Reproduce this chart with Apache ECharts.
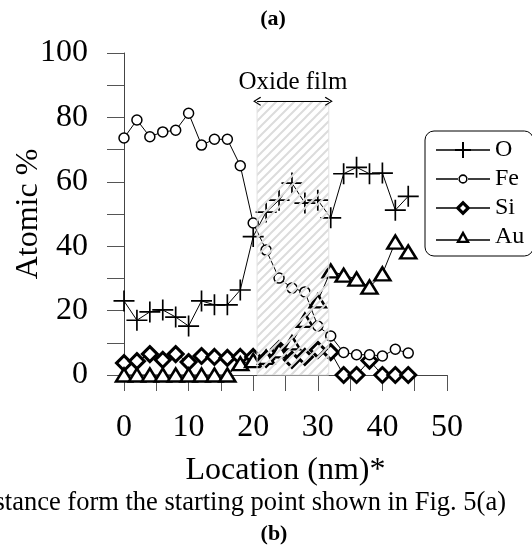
<!DOCTYPE html>
<html>
<head>
<meta charset="utf-8">
<script src="https://cdn.jsdelivr.net/npm/echarts@6/dist/echarts.min.js"></script>
<style>
  html, body { margin: 0; padding: 0; background: #fff; }
  #chart { width: 532px; height: 552px; }
</style>
</head>
<body>
<div id="chart"></div>
<script>
// location (nm) of each measuring point
var locations = [0, 2, 4, 6, 8, 10, 12, 14, 16, 18, 20, 22, 24, 26, 28, 30, 32, 34, 36, 38, 40, 42, 44]
// atomic % per element
var oValues = [23, 17, 19.6, 20.2, 18, 15.2, 23, 21.8, 21.8, 26.4, 43, 50.6, 54.3, 59.6, 53.4, 54.3, 48.8, 62.5, 64.5, 62.5, 62.7, 51.2, 55.5]
var feValues = [73.6, 79.2, 74, 75.5, 76, 81.3, 71.4, 73.2, 73.2, 65, 47.2, 38.8, 30.1, 27, 25.8, 15.2, 12.1, 7, 6.3, 6.3, 5.9, 8, 6.8]
var siValues = [3.7, 4.3, 6.5, 4.7, 6.5, 4, 5.9, 5.6, 5.3, 5.6, 5.6, 5, 8, 4.7, 5.6, 7.8, 7.1, 0, 0, 4.5, 0, 0, 0]
var auValues = [0, 0, 0, 0, 0, 0, 0, 0, 0, 3.5, 4.5, 5.5, 7.5, 10, 17, 23, 32.3, 31, 29.8, 27.3, 31.4, 41.3, 38.2]
// oxide film band [start, end] in nm and its height in %
var oxideFilm = [20.6, 31.7]
var oxideTop = 85

var serif = '"Liberation Serif", "Times New Roman", serif'

function pairs (vals) {
  return vals.map(function (v, i) { return [locations[i], v] })
}

// diagonal hatch tile
function hatch () {
  var c = document.createElement('canvas')
  c.width = 9
  c.height = 9
  var ctx = c.getContext('2d')
  ctx.strokeStyle = '#dcdcdc'
  ctx.lineWidth = 2
  ctx.beginPath()
  ctx.moveTo(-1, 10); ctx.lineTo(10, -1)
  ctx.moveTo(-2, 2); ctx.lineTo(2, -2)
  ctx.moveTo(7, 11); ctx.lineTo(11, 7)
  ctx.stroke()
  return c
}

var plusPath = 'path://M9.2,0H10.8V9.2H20V10.8H10.8V20H9.2V10.8H0V9.2H9.2Z'
var chevron = 'path://M5,0L10,9L9,10L5,2.6L1,10L0,9Z'

// legend icons in a 54x16 box (corner points keep the box size)
var box = 'M0,0L0,0M54,16L54,16'
var legendIcons = {
  O: 'path://' + box + 'M0,7.2H54V8.8H0ZM19,6.9H35V9.1H19ZM26,0H28V16H26Z',
  Fe: 'path://' + box + 'M0,7.2H23V8.8H0ZM31,7.2H54V8.8H31Z' +
    'M22.3,8A4.7,4.7 0 1 0 31.7,8A4.7,4.7 0 1 0 22.3,8ZM23.9,8A3.1,3.1 0 1 1 30.1,8A3.1,3.1 0 1 1 23.9,8Z',
  Si: 'path://' + box + 'M0,7.2H21V8.8H0ZM33,7.2H54V8.8H33Z' +
    'M27,0.5L34.5,8L27,15.5L19.5,8ZM27,5L24,8L27,11L30,8Z',
  Au: 'path://' + box + 'M0,10.2H22V11.8H0ZM32,10.2H54V11.8H32Z' +
    'M20,14L27,1.5L34,14ZM24.2,11.7L29.8,11.7L27,6.6Z'
}
var legendNames = ['O', 'Fe', 'Si', 'Au']

var chart = echarts.init(document.getElementById('chart'))
chart.setOption({
  animation: false,
  textStyle: { fontFamily: serif },
  grid: { left: 124, right: 85, top: 53, bottom: 177, containLabel: false, outerBoundsMode: 'none' },
  legend: {
    data: legendNames.map(function (n) {
      return { name: n, icon: legendIcons[n], itemStyle: { color: '#000', borderWidth: 0 } }
    }),
    orient: 'vertical',
    left: 425,
    top: 131,
    padding: [7, 9, 7, 11],
    itemWidth: 54,
    itemHeight: 16,
    itemGap: 5,
    backgroundColor: '#fff',
    borderColor: '#000',
    borderWidth: 1,
    borderRadius: 9,
    textStyle: { fontFamily: serif, fontSize: 24, color: '#000', lineHeight: 24 }
  },
  xAxis: {
    type: 'value',
    min: 0,
    max: 50,
    interval: 5,
    name: 'Location (nm)*',
    nameLocation: 'middle',
    nameGap: 80,
    nameTextStyle: { fontFamily: serif, fontSize: 32, color: '#000' },
    axisLine: { lineStyle: { color: '#444', width: 1 } },
    axisTick: { length: 16, lineStyle: { color: '#555' } },
    axisLabel: {
      margin: 37,
      fontSize: 32,
      color: '#000',
      fontFamily: serif,
      formatter: function (v) { return v % 10 === 0 ? v : '' }
    },
    splitLine: { show: false }
  },
  yAxis: {
    type: 'value',
    min: 0,
    max: 100,
    interval: 10,
    name: 'Atomic %',
    nameLocation: 'middle',
    nameGap: 79,
    nameMoveOverlap: false,
    nameTextStyle: { fontFamily: serif, fontSize: 32, color: '#000' },
    axisLine: { show: true, lineStyle: { color: '#444', width: 1 } },
    axisTick: { show: true, length: 17, lineStyle: { color: '#555' } },
    axisLabel: {
      margin: 36,
      fontSize: 32,
      color: '#000',
      fontFamily: serif,
      formatter: function (v) { return v % 20 === 0 ? v : '' }
    },
    splitLine: { show: false }
  },
  series: [
    {
      name: 'O',
      type: 'line',
      data: pairs(oValues),
      symbol: plusPath,
      symbolSize: 21,
      lineStyle: { color: '#000', width: 1 },
      itemStyle: { color: '#000' },
      z: 4,
      markArea: {
        silent: true,
        z: 10,
        itemStyle: {
          color: { image: hatch(), repeat: 'repeat' },
          borderColor: '#e2e2e2',
          borderWidth: 1
        },
        data: [[{ coord: [oxideFilm[0], 0] }, { coord: [oxideFilm[1], oxideTop] }]]
      },
      markLine: {
        silent: true,
        z: 11,
        symbol: [chevron, chevron],
        symbolSize: [9, 8],
        lineStyle: { color: '#000', width: 1, type: 'solid' },
        label: {
          show: true,
          position: 'insideMiddleTop',
          distance: 6,
          formatter: 'Oxide film',
          fontFamily: serif,
          fontSize: 25,
          color: '#000'
        },
        emphasis: { disabled: true },
        data: [[{ coord: [oxideFilm[0], oxideTop] }, { coord: [oxideFilm[1], oxideTop] }]]
      }
    },
    {
      name: 'Fe',
      type: 'line',
      data: pairs(feValues),
      symbol: 'circle',
      symbolSize: 10,
      lineStyle: { color: '#000', width: 1 },
      itemStyle: { color: '#fff', borderColor: '#000', borderWidth: 1.5 },
      z: 5
    },
    {
      name: 'Si',
      type: 'line',
      data: pairs(siValues),
      symbol: 'diamond',
      symbolSize: 15,
      lineStyle: { color: '#000', width: 1 },
      itemStyle: { color: '#fff', borderColor: '#000', borderWidth: 3 },
      z: 3
    },
    {
      name: 'Au',
      type: 'line',
      data: pairs(auValues),
      symbol: 'triangle',
      symbolSize: [16, 13],
      lineStyle: { color: '#000', width: 1 },
      itemStyle: { color: '#fff', borderColor: '#000', borderWidth: 2.5 },
      z: 3
    }
  ],
  graphic: [
    {
      type: 'text',
      x: 273,
      y: 8,
      style: { text: '(a)', font: 'bold 22px ' + serif, fill: '#000', textAlign: 'center' }
    },
    {
      type: 'text',
      x: 506,
      y: 490,
      style: { text: '*Distance form the starting point shown in Fig. 5(a)', font: '26.5px ' + serif, fill: '#000', textAlign: 'right' }
    },
    {
      type: 'text',
      x: 274,
      y: 523,
      style: { text: '(b)', font: 'bold 22px ' + serif, fill: '#000', textAlign: 'center' }
    }
  ]
})
</script>
</body>
</html>
